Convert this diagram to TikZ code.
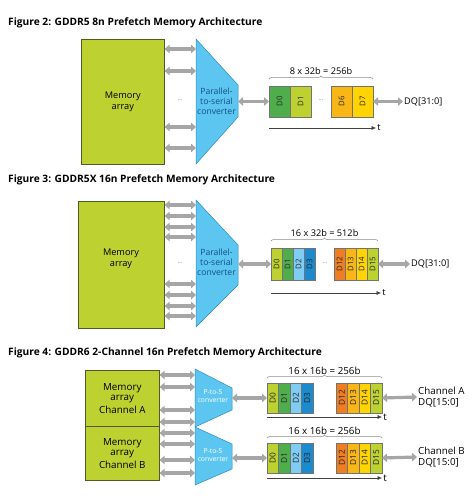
\documentclass[tikz,border=0pt]{standalone}
\usepackage{fontspec}
\setmainfont{Open Sans}
\usepackage{xcolor}
\usetikzlibrary{positioning}
\usetikzlibrary{arrows.meta}
\usetikzlibrary{decorations.pathreplacing}
\usetikzlibrary{calc}

\definecolor{memgreen}{HTML}{BDD130}
\definecolor{memline}{HTML}{4F5A2A}
\definecolor{convblue}{HTML}{5CC6F0}
\definecolor{convline}{HTML}{2B8BC9}
\definecolor{convtext}{HTML}{124F86}
\definecolor{busgray}{HTML}{A6A6A6}
\definecolor{dgreen}{HTML}{4FAE4B}
\definecolor{dlime}{HTML}{BDD130}
\definecolor{dsky}{HTML}{7FCDF2}
\definecolor{dblue}{HTML}{1C8BCE}
\definecolor{dorange}{HTML}{EF7D22}
\definecolor{damber}{HTML}{F8B717}
\definecolor{dyellow}{HTML}{FFD400}

\tikzset{
  membox/.style={draw=memline, fill=memgreen, line width=0.6pt, align=center},
  convshape/.style={draw=convline, fill=convblue, line width=0.5pt},
  convlabel/.style={align=center, text=convtext, font=\fontsize{8.6}{10}\selectfont},
  bus/.style={{Triangle[length=5pt,width=8.5pt]}-{Triangle[length=5pt,width=8.5pt]}, busgray, line width=3.2pt},
  cell/.style={draw=black!55, line width=0.4pt, inner sep=0pt, outer sep=0pt, text=black!85, font=\fontsize{7.8}{7.8}\selectfont},
  timeline/.style={-{Latex[length=4.5pt,width=4pt]}, black!75, line width=0.5pt},
  widthbrace/.style={decorate, decoration={brace, amplitude=3pt}, black!45, line width=0.5pt},
  figtitle/.style={anchor=west, inner sep=0pt, font=\fontsize{10.2}{12}\selectfont\bfseries},
  lbl/.style={align=center, inner sep=1pt, text=black, font=\fontsize{9.2}{10.5}\selectfont},
  gap/.style={text=black!50, font=\fontsize{6}{6}\selectfont, inner sep=0pt}
}

\begin{document}
\begin{tikzpicture}[x=1pt, y=-1pt]
\useasboundingbox[fill=white] (0,0) rectangle (474,497);

%% Figure 2
\begin{scope}
  \node[figtitle] (t2) at (8,23) {Figure 2: GDDR5 8n Prefetch Memory Architecture};
  \node[membox, minimum width=83pt, minimum height=125pt, anchor=north west,
        font=\fontsize{9.2}{10.5}\selectfont] (m2) at (81,39) {Memory\\array};
  \draw[convshape] (196,39) coordinate (c2) -- (238,85) -- (238,117) -- (196,164) -- cycle;
  \coordinate (c2out) at (238,101.5);
  \node[convlabel] (p2) at (216.5,101) {Parallel-\\to-serial\\converter};
  \foreach \y in {49,71,127,148}
    \draw[bus] (m2.east |- 0,\y) -- (c2 |- 0,\y);
  \node[gap] (g2a) at (180,100) {...};
  \begin{scope}[cell/.append style={minimum width=21pt, minimum height=31pt}]
    \node[cell, fill=dgreen, anchor=west] (a0) at (269,101.5) {\rotatebox{90}{D0}};
    \node[cell, fill=dlime, right=0pt of a0] (a1) {\rotatebox{90}{D1}};
    \node[gap] (g2b) at (321,100) {...};
    \node[cell, fill=damber, anchor=west] (a6) at (331,101.5) {\rotatebox{90}{D6}};
    \node[cell, fill=dyellow, right=0pt of a6] (a7) {\rotatebox{90}{D7}};
  \end{scope}
  \draw[bus] (c2out) -- (c2out -| a0.west);
  \node[lbl, anchor=west] (dq2) at (403,101.5) {DQ[31:0]};
  \draw[bus] (a7.east) -- (dq2.west);
  \draw[widthbrace] ([yshift=7pt]a0.north west) -- ([yshift=7pt]a7.north east)
        node[lbl, midway, above=3pt] {8 x 32b = 256b};
  \coordinate (ta2) at (269,128);
  \coordinate (tb2) at (376,128);
  \draw[timeline] (ta2) -- (tb2) node[lbl, right=0pt] {t};
\end{scope}

%% Figure 3
\begin{scope}
  \node[figtitle] (t3) at (8,180) {Figure 3: GDDR5X 16n Prefetch Memory Architecture};
  \node[membox, minimum width=86pt, minimum height=127pt, anchor=north west] (m3) at (78,201) {};
  \node[align=center, font=\fontsize{9.2}{10.5}\selectfont] (m3txt) at (121,259) {Memory\\array};
  \draw[convshape] (196,200) coordinate (c3) -- (238,245) -- (238,285) -- (196,327) -- cycle;
  \coordinate (c3out) at (238,264);
  \node[convlabel] (p3) at (216.5,262) {Parallel-\\to-serial\\converter};
  \foreach \y in {205,216,227,237,284,295,306,316}
    \draw[bus] (m3.east |- 0,\y) -- (c3 |- 0,\y);
  \node[gap] (g3a) at (180,263) {...};
  \begin{scope}[cell/.append style={minimum width=11pt, minimum height=32pt}]
    \node[cell, fill=dlime, anchor=west] (b0) at (271,264) {\rotatebox{90}{D0}};
    \node[cell, fill=dgreen, right=0pt of b0] (b1) {\rotatebox{90}{D1}};
    \node[cell, fill=dsky, right=0pt of b1] (b2) {\rotatebox{90}{D2}};
    \node[cell, fill=dblue, right=0pt of b2] (b3) {\rotatebox{90}{D3}};
    \node[gap] (g3b) at (325,263) {...};
    \node[cell, fill=dorange, anchor=west] (b12) at (334,264) {\rotatebox{90}{D12}};
    \node[cell, fill=damber, right=0pt of b12] (b13) {\rotatebox{90}{D13}};
    \node[cell, fill=dyellow, right=0pt of b13] (b14) {\rotatebox{90}{D14}};
    \node[cell, fill=dlime, right=0pt of b14] (b15) {\rotatebox{90}{D15}};
  \end{scope}
  \draw[bus] (c3out) -- (c3out -| b0.west);
  \node[lbl, anchor=west] (dq3) at (410,264) {DQ[31:0]};
  \draw[bus] (b15.east) -- (dq3.west);
  \draw[widthbrace] ([yshift=7pt]b0.north west) -- ([yshift=7pt]b15.north east)
        node[lbl, midway, above=3pt] {16 x 32b = 512b};
  \coordinate (ta3) at (271,293);
  \coordinate (tb3) at (381,293);
  \draw[timeline] (ta3) -- (tb3) node[lbl, right=0pt] {t};
\end{scope}

%% Figure 4
\begin{scope}[lbl/.append style={font=\fontsize{9.8}{11}\selectfont},
              cell/.append style={minimum width=11.5pt, minimum height=30pt, font=\fontsize{8.3}{8.3}\selectfont}]
  \node[figtitle] (t4) at (8,353) {Figure 4: GDDR6 2-Channel 16n Prefetch Memory Architecture};
  \node[membox, minimum width=74pt, minimum height=56pt, anchor=north west,
        font=\fontsize{9.8}{9.8}\selectfont] (m4a) at (85,370) {Memory\\array\\[3pt]Channel A};
  \node[membox, minimum width=74pt, minimum height=54pt, anchor=north west,
        font=\fontsize{9.8}{9.8}\selectfont] (m4b) at (85,426) {Memory\\array\\[3pt]Channel B};
  \draw[convshape] (195,369) coordinate (c4a) -- (232,388) -- (232,410) -- (195,427) -- cycle;
  \draw[convshape] (195,427) coordinate (c4b) -- (232,444) -- (232,469) -- (195,485) -- cycle;
  \coordinate (c4aout) at (232,398);
  \coordinate (c4bout) at (232,458);
  \node[convlabel, text=white, font=\fontsize{6.8}{8}\selectfont] (p4a) at (213,396) {P-to-S\\converter};
  \node[convlabel, text=white, font=\fontsize{6.8}{8}\selectfont] (p4b) at (213,455) {P-to-S\\converter};
  \foreach \y in {375,387,410,422}
    \draw[bus] (m4a.east |- 0,\y) -- (c4a |- 0,\y);
  \foreach \y in {433,444,460,473}
    \draw[bus] (m4b.east |- 0,\y) -- (c4b |- 0,\y);
  % channel A
  \node[cell, fill=dlime, anchor=west] (ca0) at (267,398) {\rotatebox{90}{D0}};
  \node[cell, fill=dgreen, right=0pt of ca0] (ca1) {\rotatebox{90}{D1}};
  \node[cell, fill=dsky, right=0pt of ca1] (ca2) {\rotatebox{90}{D2}};
  \node[cell, fill=dblue, right=0pt of ca2] (ca3) {\rotatebox{90}{D3}};
  \node[cell, fill=dorange, anchor=west] (ca12) at (336,398) {\rotatebox{90}{D12}};
  \node[cell, fill=damber, right=0pt of ca12] (ca13) {\rotatebox{90}{D13}};
  \node[cell, fill=dyellow, right=0pt of ca13] (ca14) {\rotatebox{90}{D14}};
  \node[cell, fill=dlime, right=0pt of ca14] (ca15) {\rotatebox{90}{D15}};
  \draw[bus] (c4aout) -- (c4aout -| ca0.west);
  \node[lbl, anchor=west, align=left] (dqa) at (417,397) {Channel A\\DQ[15:0]};
  \draw[bus] (ca15.east) -- (dqa.west);
  \draw[widthbrace] ([yshift=5pt]ca0.north west) -- ([yshift=5pt]ca15.north east)
        node[lbl, midway, above=2pt] {16 x 16b = 256b};
  \coordinate (ta4) at (267,417);
  \coordinate (tb4) at (382,417);
  \draw[timeline] (ta4) -- (tb4) node[lbl, right=0pt] {t};
  % channel B
  \node[cell, fill=dlime, anchor=west] (cb0) at (267,458) {\rotatebox{90}{D0}};
  \node[cell, fill=dgreen, right=0pt of cb0] (cb1) {\rotatebox{90}{D1}};
  \node[cell, fill=dsky, right=0pt of cb1] (cb2) {\rotatebox{90}{D2}};
  \node[cell, fill=dblue, right=0pt of cb2] (cb3) {\rotatebox{90}{D3}};
  \node[cell, fill=dorange, anchor=west] (cb12) at (336,458) {\rotatebox{90}{D12}};
  \node[cell, fill=damber, right=0pt of cb12] (cb13) {\rotatebox{90}{D13}};
  \node[cell, fill=dyellow, right=0pt of cb13] (cb14) {\rotatebox{90}{D14}};
  \node[cell, fill=dlime, right=0pt of cb14] (cb15) {\rotatebox{90}{D15}};
  \draw[bus] (c4bout) -- (c4bout -| cb0.west);
  \node[lbl, anchor=west, align=left] (dqb) at (417,457) {Channel B\\DQ[15:0]};
  \draw[bus] (cb15.east) -- (dqb.west);
  \draw[widthbrace] ([yshift=5pt]cb0.north west) -- ([yshift=5pt]cb15.north east)
        node[lbl, midway, above=2pt] {16 x 16b = 256b};
  \coordinate (ta5) at (267,478);
  \coordinate (tb5) at (382,478);
  \draw[timeline] (ta5) -- (tb5) node[lbl, right=0pt] {t};
\end{scope}
\end{tikzpicture}
\end{document}
